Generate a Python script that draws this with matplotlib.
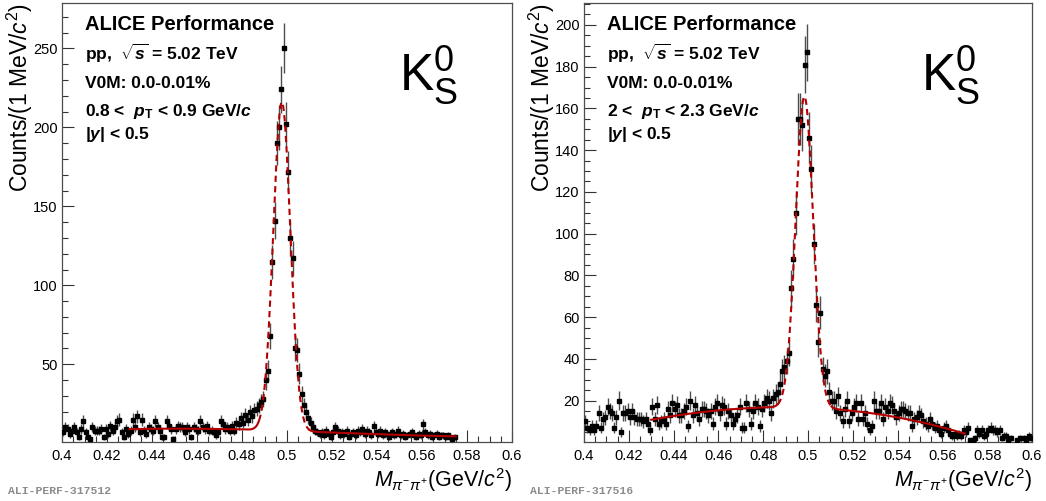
import numpy as np
import matplotlib
matplotlib.use("Agg")
import matplotlib.pyplot as plt
from matplotlib.ticker import MultipleLocator, FuncFormatter

plt.rcParams["font.family"] = ["Liberation Sans", "DejaVu Sans"]
plt.rcParams["mathtext.fontset"] = "custom"
plt.rcParams["mathtext.rm"] = "Liberation Sans"
plt.rcParams["mathtext.it"] = "Liberation Sans:italic"
plt.rcParams["mathtext.bf"] = "Liberation Sans:bold"
plt.rcParams["mathtext.bfit"] = "Liberation Sans:bold:italic"

# ---------------- histogram binning ----------------
mass_lo = 0.400          # GeV/c^2, lower edge of first bin
bin_width = 0.001        # 1 MeV/c^2

# ---------------- 0.8 < pT < 0.9 GeV/c ----------------
counts_low_pt = [
    7, 10, 9, 6, 8, 10, 7, 4, 9, 14,
    7, 4, 3, 10, 8, 8, 8, 9, 4, 9,
    6, 11, 8, 10, 14, 15, 7, 4, 9, 6,
    8, 15, 10, 17, 7, 15, 8, 6, 10, 9,
    8, 14, 10, 8, 4, 4, 14, 11, 9, 3,
    9, 11, 10, 10, 7, 10, 9, 4, 10, 9,
    8, 14, 10, 9, 11, 8, 8, 7, 5, 7,
    14, 12, 9, 10, 8, 11, 8, 13, 12, 16,
    13, 18, 15, 20, 17, 21, 22, 24, 26, 28,
    40, 46, 68, 115, 141, 190, 200, 224, 250, 202,
    172, 130, 117, 60, 59, 44, 31, 24, 20, 16,
    13, 10, 8, 7, 6, 7, 5, 8, 6, 4,
    7, 10, 8, 5, 7, 6, 8, 4, 6, 7,
    5, 8, 7, 9, 6, 8, 7, 5, 11, 7,
    6, 8, 5, 7, 6, 4, 7, 5, 6, 8,
    5, 6, 4, 5, 6, 7, 5, 4, 6, 5,
    12, 7, 5, 6, 4, 5, 6, 4, 5, 5,
    4, 5, 4, 3, 4,
]

# fit: Gaussian + polynomial background
fit_low_pt = dict(mean=0.4977, sigma=0.0038, amp=208.0,
                  bg_mass=[0.430, 0.455, 0.480, 0.510, 0.540, 0.575],
                  bg_val=[9.0, 9.0, 9.0, 7.2, 5.8, 4.4],
                  range=(0.430, 0.575), peak_window=(0.4875, 0.5100))

# ---------------- 2 < pT < 2.3 GeV/c ----------------
counts_high_pt = [
    10, 7, 6, 8, 6, 8, 14, 7, 11, 12,
    17, 15, 14, 7, 12, 20, 5, 14, 14, 15,
    12, 15, 12, 11, 11, 11, 10, 11, 9, 6,
    17, 11, 18, 9, 10, 11, 9, 16, 13, 19,
    16, 18, 13, 13, 15, 17, 8, 20, 13, 18,
    14, 11, 16, 16, 15, 13, 15, 9, 17, 19,
    14, 18, 17, 9, 15, 13, 9, 11, 13, 17,
    7, 7, 19, 16, 9, 15, 19, 17, 8, 16,
    19, 21, 20, 14, 21, 23, 24, 28, 34, 36,
    39, 43, 74, 88, 110, 155, 155, 152, 181, 187,
    146, 131, 95, 66, 48, 62, 35, 32, 34, 24,
    20, 20, 15, 22, 14, 10, 16, 20, 10, 14,
    17, 19, 11, 19, 11, 14, 9, 6, 8, 20,
    15, 15, 19, 11, 17, 15, 19, 18, 15, 12,
    14, 16, 16, 15, 14, 14, 8, 11, 12, 14,
    13, 10, 9, 8, 11, 9, 7, 8, 6, 4,
    7, 8, 6, 4, 3, 4, 3, 4, 3, 6,
    5, 7, 1, 1, 2, 6, 4, 6, 3, 4,
    6, 7, 6, 6, 5, 6, 2, 3, 3, 1,
    2, 0, 0, 1, 2, 0, 2, 1, 3, 2,
]

fit_high_pt = dict(mean=0.4984, sigma=0.0039, amp=149.0,
                   bg_mass=[0.430, 0.455, 0.480, 0.513, 0.540, 0.570],
                   bg_val=[10.9, 14.5, 16.9, 15.8, 11.8, 4.2],
                   range=(0.430, 0.570), peak_window=(0.4865, 0.5105))

pt_labels = ["0.8 <  $\\mathbfit{p}_{\\mathbf{T}}$ < 0.9 GeV/$\\mathbfit{c}$",
             "2 <  $\\mathbfit{p}_{\\mathbf{T}}$ < 2.3 GeV/$\\mathbfit{c}$"]
ylims = [(1.0, 278.7), (0.3, 210.5)]
y_major = [50, 20]
y_minor = [10, 5]
plot_ids = ["ALI-PERF-317512", "ALI-PERF-317516"]

W, H = 1046, 501
fig = plt.figure(figsize=(W / 100, H / 100), dpi=100)

axes_px = [(62, 512), (584, 1032)]
ax_top, ax_bot = 3, 441.7
red = "#b40000"


def fit_curve(x, p):
    coeff = np.polyfit(p["bg_mass"], p["bg_val"], 3)
    bg = np.polyval(coeff, x)
    sig = p["amp"] * np.exp(-0.5 * ((x - p["mean"]) / p["sigma"]) ** 2)
    return bg + sig


for k, (counts, fitp) in enumerate([(counts_low_pt, fit_low_pt),
                                    (counts_high_pt, fit_high_pt)]):
    x0, x1 = axes_px[k]
    ax = fig.add_axes([x0 / W, 1 - ax_bot / H, (x1 - x0) / W, (ax_bot - ax_top) / H])
    counts = np.asarray(counts, dtype=float)
    centers = mass_lo + bin_width * (np.arange(len(counts)) + 0.5)
    filled = counts > 0
    ax.errorbar(centers[filled], counts[filled], yerr=np.sqrt(counts[filled]),
                fmt="s", ms=3.0, mfc="k", mec="k", ecolor="0.3",
                elinewidth=1.0, capsize=0, zorder=3)

    lo, hi = fitp["range"]
    wlo, whi = fitp["peak_window"]
    xs = np.linspace(lo, hi, 1500)
    ys = fit_curve(xs, fitp)
    side_l = xs <= wlo
    side_r = xs >= whi
    mid = (xs >= wlo) & (xs <= whi)
    ax.plot(xs[side_l], ys[side_l], color=red, lw=1.5, zorder=4)
    ax.plot(xs[side_r], ys[side_r], color=red, lw=1.5, zorder=4)
    ax.plot(xs[mid], ys[mid], color=red, lw=1.5, ls=(0, (3.0, 2.0)), zorder=4)

    ax.set_xlim(0.4, 0.6)
    ax.set_ylim(*ylims[k])
    ax.xaxis.set_major_locator(MultipleLocator(0.02))
    ax.xaxis.set_minor_locator(MultipleLocator(0.005))
    ax.yaxis.set_major_locator(MultipleLocator(y_major[k]))
    ax.yaxis.set_minor_locator(MultipleLocator(y_minor[k]))
    ax.xaxis.set_major_formatter(FuncFormatter(lambda v, pos: f"{v:g}"))
    ax.yaxis.set_major_formatter(FuncFormatter(lambda v, pos: f"{v:g}"))
    ax.tick_params(which="both", direction="in", top=False, right=False,
                   labelsize=10.5, width=0.8, color="0.2")
    ax.tick_params(which="major", length=8.6)
    ax.tick_params(which="minor", length=4.3)
    ax.tick_params(axis="x", pad=5)
    ax.tick_params(axis="y", pad=3)
    for s in ax.spines.values():
        s.set_color("0.3")
        s.set_linewidth(0.9)

    # axis titles
    fig.text(x1 / W, 1 - 487 / H, "$M_{\\pi^{-}\\pi^{+}}$(GeV/$c^{2}$)",
             ha="right", va="baseline", fontsize=15.5)
    fig.text((x0 - 42) / W, 1 - 3 / H, "Counts/(1 MeV/$c^{2}$)",
             rotation=90, ha="center", va="top", fontsize=16.5)

    # information block
    tx = (x0 + 23) / W
    fig.text(tx, 1 - 30 / H, "ALICE Performance", fontsize=14.5,
             fontweight="bold", va="baseline")
    info = ["pp,  $\\sqrt{\\mathbfit{s}}$ = 5.02 TeV",
            "V0M: 0.0-0.01%",
            pt_labels[k],
            "|$\\mathbfit{y}$| < 0.5"]
    for line, base in zip(info, [60, 88, 116, 139]):
        fig.text(tx, 1 - base / H, line, fontsize=12.5, fontweight="bold",
                 va="baseline")

    fig.text((x0 + 337) / W, 1 - 91 / H, "K$_{\\mathrm{S}}^{0}$",
             fontsize=37, va="baseline")

    fig.text((x0 - 54) / W, 1 - 491 / H, plot_ids[k], family="Liberation Mono",
             fontweight="bold", color="0.55", fontsize=8.2, va="center")

fig.savefig("out.png", dpi=100)
